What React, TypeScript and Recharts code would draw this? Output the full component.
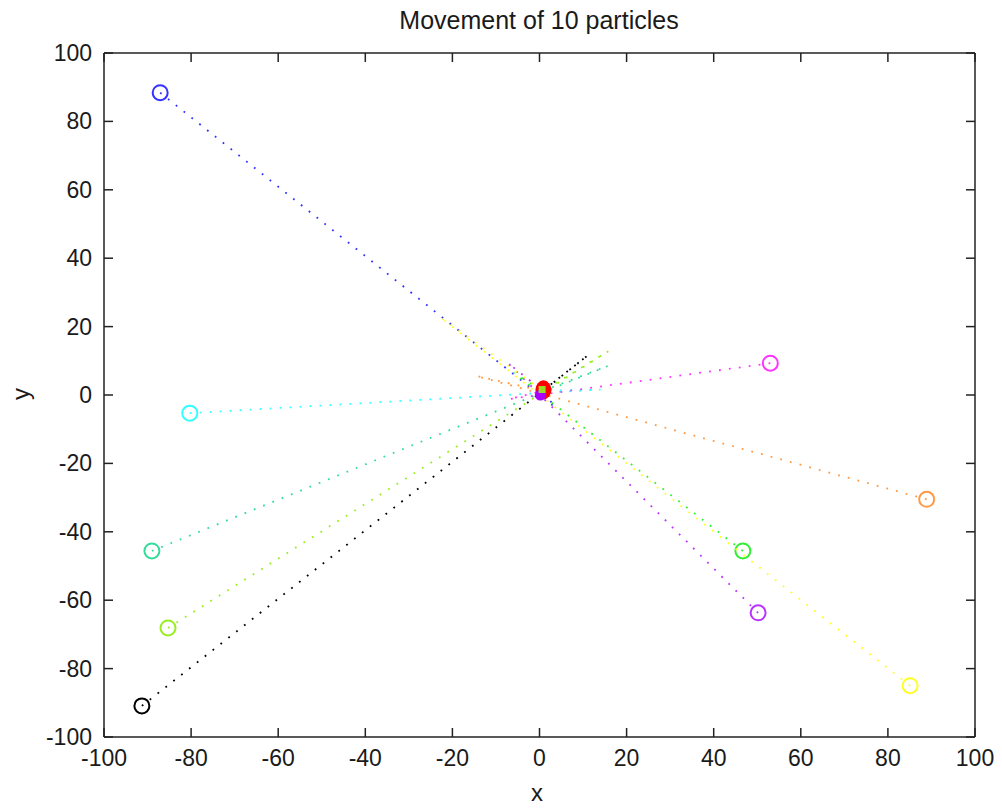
import React from "react";
import { ScatterChart, Scatter, XAxis, YAxis } from "recharts";

// axis ticks
const ticks = [-100, -80, -60, -40, -20, 0, 20, 40, 60, 80, 100];

// particles: colour, starting position (circle), overshoot point past the centre
const colors = ["#3333ff", "#33ffff", "#33dd99", "#99ee22", "#000000", "#ff33ff", "#ff9944", "#33ee33", "#bb33ff", "#ffff22"];
const startX = [-87.1, -80.3, -89.0, -85.3, -91.3, 53.0, 88.9, 46.7, 50.2, 85.1];
const startY = [88.4, -5.3, -45.6, -68.1, -90.9, 9.3, -30.5, -45.6, -63.7, -85.0];
const overX = [3.5, 14.0, 15.7, 15.8, 11.2, -7.0, -14.6, -6.0, -7.2, -22.8];
const overY = [-3.5, 1.6, 8.5, 12.8, 11.7, -1.2, 5.6, 6.5, 9.3, 22.8];
const endX = [0.8, 0.8, 0.8, 0.8, 0.8, 0.8, 0.8, 0.8, 0.8, 0.8];
const endY = [1.2, 1.2, 1.2, 1.2, 1.2, 1.2, 1.2, 1.2, 1.2, 1.2];

// final best positions at the centre
const bestX = [0.9, 0.2, 0.6];
const bestY = [1.5, 0.0, 1.6];
const bestColors = ["#ff0000", "#aa00ff", "#99dd22"];

const particles = colors.map((c, i) => ({
  color: c,
  data: [
    { x: startX[i], y: startY[i], kind: "start" },
    { x: overX[i], y: overY[i], kind: "trail" },
    { x: endX[i], y: endY[i], kind: "trail" },
  ],
}));

const best = bestX.map((x, i) => ({ x, y: bestY[i], color: bestColors[i], idx: i }));

const font = "'Liberation Sans', Arial, sans-serif";
const ink = "#1a1a1a";
const axisStroke = { stroke: "#222", strokeWidth: 1.5 };
const TL = 9; // inward tick length

// ticks drawn inward, with label outside
function bottomTick(props: any) {
  const { x, y, payload } = props;
  return (
    <g>
      <line x1={x} y1={y} x2={x} y2={y - TL} stroke="#222" strokeWidth={1.5} />
      <text x={x} y={y + 29} textAnchor="middle" fontSize={23} fontFamily={font} fill={ink}>
        {payload.value}
      </text>
    </g>
  );
}
function topTick(props: any) {
  const { x, y } = props;
  return <line x1={x} y1={y} x2={x} y2={y + TL} stroke="#222" strokeWidth={1.5} />;
}
function leftTick(props: any) {
  const { x, y, payload } = props;
  return (
    <g>
      <line x1={x} y1={y} x2={x + TL} y2={y} stroke="#222" strokeWidth={1.5} />
      <text x={x - 12} y={y + 8} textAnchor="end" fontSize={23} fontFamily={font} fill={ink}>
        {payload.value}
      </text>
    </g>
  );
}
function rightTick(props: any) {
  const { x, y } = props;
  return <line x1={x} y1={y} x2={x - TL} y2={y} stroke="#222" strokeWidth={1.5} />;
}

function startShape(color: string) {
  return (props: any) => {
    const { cx, cy, payload } = props;
    if (payload.kind !== "start") return <g />;
    return <circle cx={cx} cy={cy} r={7.5} fill="none" stroke={color} strokeWidth={2} />;
  };
}

function bestShape(props: any) {
  const { cx, cy, payload } = props;
  if (payload.idx === 0) return <ellipse cx={cx} cy={cy} rx={8} ry={9.5} fill={payload.color} />;
  if (payload.idx === 1) return <circle cx={cx} cy={cy} r={5.5} fill={payload.color} />;
  return <rect x={cx - 3.5} y={cy - 3.5} width={7} height={7} fill={payload.color} />;
}

export default function App() {
  return (
    <div style={{ position: "absolute", left: 0, top: 0, width: 1002, height: 810, background: "#fff" }}>
      <div style={{ position: "absolute", left: 0, width: 1078, top: 6, textAlign: "center", fontFamily: font, fontSize: 25, color: ink }}>
        Movement of 10 particles
      </div>
      <div style={{ position: "absolute", left: 0, width: 1074, top: 779, textAlign: "center", fontFamily: font, fontSize: 24, color: ink }}>
        x
      </div>
      <div style={{ position: "absolute", left: 9, top: 380, width: 24, textAlign: "center", fontFamily: font, fontSize: 24, color: ink, transform: "rotate(-90deg)" }}>
        y
      </div>
      <ScatterChart width={1002} height={810} margin={{ top: 52, right: 26, left: 24, bottom: 0 }}>
        <XAxis
          type="number"
          dataKey="x"
          domain={[-100, 100]}
          ticks={ticks}
          allowDataOverflow
          height={73}
          tickSize={0}
          tickMargin={0}
          tickLine={false}
          tick={bottomTick}
          axisLine={axisStroke}
        />
        <XAxis
          xAxisId="top"
          orientation="top"
          type="number"
          dataKey="x"
          domain={[-100, 100]}
          ticks={ticks}
          allowDataOverflow
          height={1}
          tickSize={0}
          tickMargin={0}
          tickLine={false}
          tick={topTick}
          axisLine={axisStroke}
        />
        <YAxis
          type="number"
          dataKey="y"
          domain={[-100, 100]}
          ticks={ticks}
          allowDataOverflow
          width={80}
          tickSize={0}
          tickMargin={0}
          tickLine={false}
          tick={leftTick}
          axisLine={axisStroke}
        />
        <YAxis
          yAxisId="right"
          orientation="right"
          type="number"
          dataKey="y"
          domain={[-100, 100]}
          ticks={ticks}
          allowDataOverflow
          width={1}
          tickSize={0}
          tickMargin={0}
          tickLine={false}
          tick={rightTick}
          axisLine={axisStroke}
        />
        {particles.map((p, i) => (
          <Scatter
            key={i}
            data={p.data}
            line={{ stroke: p.color, strokeWidth: 1.8, strokeDasharray: "1.8 8.2" }}
            lineType="joint"
            shape={startShape(p.color)}
            isAnimationActive={false}
          />
        ))}
        <Scatter data={best} shape={bestShape} isAnimationActive={false} />
      </ScatterChart>
    </div>
  );
}
